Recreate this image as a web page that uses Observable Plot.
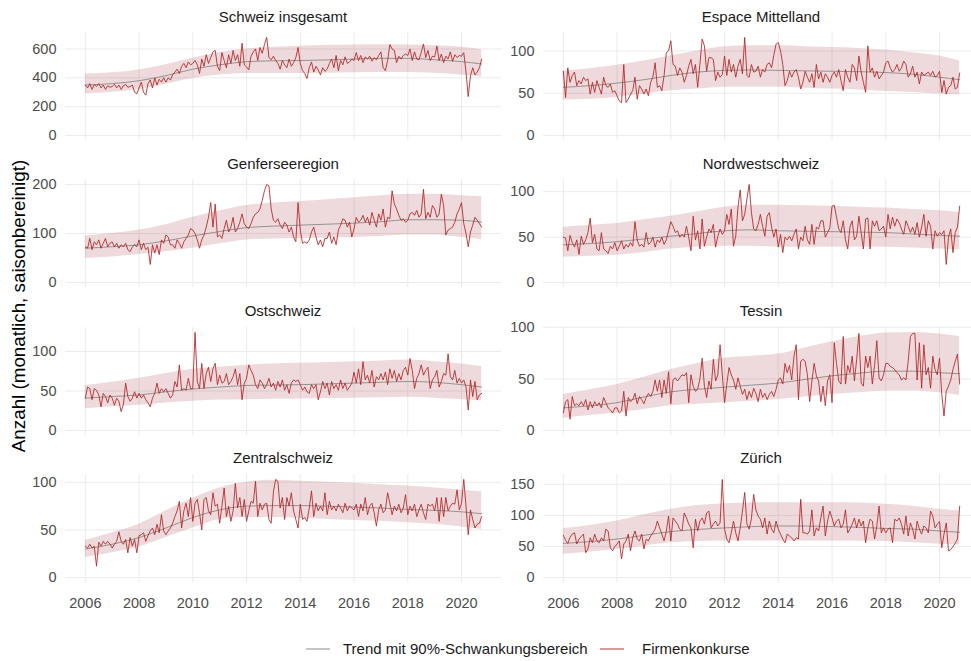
<!DOCTYPE html>
<html>
<head>
<meta charset="utf-8">
<script src="https://cdn.jsdelivr.net/npm/d3@7"></script>
<script src="https://cdn.jsdelivr.net/npm/@observablehq/plot@0.6"></script>
<style>
html, body { margin: 0; padding: 0; background: #fff; overflow: hidden; }
#chart { position: relative; width: 971px; height: 661px; font-family: "Liberation Sans", Arial, sans-serif; }
.strip { position: absolute; font-size: 15px; line-height: 15px; color: #1a1a1a; white-space: nowrap; transform: translateX(-50%); }
.ytitle { position: absolute; font-size: 18.8px; line-height: 19px; color: #000; white-space: nowrap; transform: translate(-50%, -50%) rotate(-90deg); }
.legtext { position: absolute; font-size: 15px; line-height: 15px; color: #1a1a1a; white-space: nowrap; }
.legkey { position: absolute; }
.facet { position: absolute; }
</style>
</head>
<body>
<div id="chart"></div>
<script>
// ---------- data ----------
const regions = ["Schweiz insgesamt", "Espace Mittelland", "Genferseeregion", "Nordwestschweiz",
                 "Ostschweiz", "Tessin", "Zentralschweiz", "Zürich"];
const startYear = 2006; // monthly values, Jan 2006 – Oct 2020
const xTicks = [2006, 2008, 2010, 2012, 2014, 2016, 2018, 2020];
const trendYears = [2006, 2007, 2008, 2009, 2010, 2011, 2012, 2013, 2014, 2015, 2016, 2017, 2018, 2019, 2020, 2020.75];

const schweizInsgesamt = [
  350,330,360,320,355,340,360,330,350,320,345,335,
  340,355,330,350,320,345,355,335,340,350,300,290,
  330,370,300,280,360,385,330,400,350,390,370,400,
  370,400,385,420,440,460,430,480,500,470,510,490,
  500,520,490,430,530,480,560,500,540,580,590,480,
  450,575,520,470,560,500,590,520,560,480,640,490,
  475,455,550,580,600,520,610,570,630,680,540,525,
  550,520,500,460,520,490,470,530,480,505,540,610,
  500,450,430,395,470,510,440,480,455,420,470,445,
  460,500,530,470,555,450,520,490,545,500,510,530,
  520,575,520,555,505,545,530,550,515,540,525,555,
  580,470,450,520,630,600,590,505,550,530,555,565,
  555,600,520,580,530,525,575,635,540,590,520,550,
  545,620,520,565,505,550,530,580,515,560,540,555,
  550,575,440,270,415,470,420,440,470,530];
const espaceMittelland = [
  76,45,80,63,71,75,59,65,61,69,65,67,
  49,63,51,65,57,49,69,59,57,61,51,53,
  47,41,39,84,39,43,49,53,69,43,59,55,
  49,55,47,63,69,86,57,59,53,71,98,100,
  112,84,82,71,80,75,63,71,82,90,73,84,
  57,84,114,106,76,92,92,90,65,75,69,72,
  94,71,90,75,84,69,82,90,73,116,71,69,
  84,75,76,82,69,78,75,84,86,80,95,108,
  110,100,84,59,65,76,69,75,78,69,55,63,
  76,69,63,73,57,84,67,75,63,73,69,63,
  71,75,69,78,65,53,78,69,63,84,80,65,
  94,75,63,51,106,75,80,69,76,67,71,75,
  86,88,80,75,78,84,76,80,88,84,69,73,
  82,69,75,61,75,71,73,75,71,76,69,71,
  76,51,65,49,57,59,69,55,57,74];
const genferseeregion = [
  73,70,90,67,83,77,87,70,80,90,73,80,
  83,73,80,70,77,73,80,67,63,73,77,73,
  87,67,80,67,72,37,77,60,77,57,87,80,
  97,93,77,77,70,87,80,70,83,90,97,110,
  107,100,87,70,87,97,113,133,163,113,160,93,
  97,90,110,127,103,113,133,103,110,123,140,120,
  113,110,120,133,140,143,150,167,187,200,197,150,
  127,123,130,117,110,123,117,103,113,93,83,163,
  107,80,83,80,87,103,113,93,77,87,73,90,
  90,103,80,93,77,107,117,130,127,113,123,93,
  110,133,123,127,137,123,133,117,143,127,113,140,
  127,150,113,133,130,187,160,150,137,127,130,123,
  127,140,143,137,147,133,140,190,130,143,133,157,
  150,133,140,180,157,97,107,110,113,123,140,150,
  163,120,100,73,103,117,133,127,120,113];
const nordwestschweiz = [
  50,49,35,52,44,39,47,31,51,42,47,55,
  71,44,53,37,35,55,37,35,32,40,37,44,
  35,40,46,37,42,39,44,40,67,47,40,42,
  39,55,42,44,50,39,47,44,50,42,47,57,
  67,62,55,57,50,53,50,62,50,35,73,47,
  57,37,70,40,50,59,55,64,39,51,59,53,
  57,75,64,81,40,51,83,102,68,75,92,108,
  77,59,57,64,75,62,51,73,77,61,50,59,
  39,53,33,50,47,51,46,53,59,37,50,46,
  62,47,42,64,42,61,59,68,68,50,55,60,
  84,85,72,59,55,68,47,37,61,68,47,51,
  73,55,37,70,71,37,68,62,68,57,59,62,
  50,75,59,72,62,70,66,59,53,68,62,55,
  61,53,66,50,61,75,51,68,62,37,57,51,
  55,53,57,20,50,59,33,55,61,84];
const ostschweiz = [
  41,55,53,39,53,51,45,30,47,43,35,45,
  41,32,41,37,24,33,60,43,37,41,49,41,
  47,41,45,39,35,30,41,47,60,47,53,49,
  53,47,41,45,62,55,83,51,53,51,66,53,
  53,124,62,53,85,53,72,80,62,78,85,58,
  70,60,62,72,58,62,68,78,58,72,39,60,
  66,83,76,70,58,53,64,60,53,58,66,55,
  60,51,62,55,64,51,58,47,60,64,62,64,
  58,51,55,49,47,58,53,58,39,49,62,53,
  60,45,62,53,58,51,64,53,60,51,55,60,
  74,60,78,58,87,64,70,60,76,55,68,64,
  72,64,74,58,78,66,76,62,72,64,76,80,
  70,91,76,53,66,72,83,70,76,80,53,64,
  68,76,55,62,72,70,97,68,64,76,60,66,
  60,64,55,26,64,43,62,39,45,47];
const tessin = [
  17,28,30,11,33,24,26,24,28,24,30,20,
  28,22,28,24,27,22,32,27,22,20,17,22,
  22,17,19,38,14,32,28,30,36,26,33,30,
  26,32,36,33,38,49,38,49,32,49,36,57,
  26,49,51,48,51,54,53,56,27,54,43,38,
  40,50,70,43,32,48,40,69,48,54,83,54,
  27,45,61,54,49,40,51,43,35,40,30,38,
  32,41,36,28,40,32,36,30,35,38,33,40,
  49,51,45,65,56,63,49,72,83,30,67,69,
  67,54,28,48,65,53,48,28,43,24,48,54,
  27,85,65,48,45,91,45,63,56,72,48,69,
  94,46,43,72,61,72,45,63,87,51,48,54,
  65,65,62,61,59,56,54,49,51,49,67,91,
  94,94,49,85,41,83,54,61,41,72,59,54,
  70,35,14,38,43,49,59,67,74,45];
const zentralschweiz = [
  33,31,35,31,33,12,37,33,38,35,38,35,
  31,35,38,48,38,35,40,26,42,33,40,26,
  44,45,47,38,44,49,52,45,56,47,66,49,
  45,49,52,57,64,70,80,52,70,78,64,84,
  59,78,82,68,50,82,84,70,66,89,75,77,
  57,75,94,64,75,59,70,99,73,84,64,82,
  59,70,80,78,101,64,78,71,77,78,61,57,
  90,103,101,73,84,61,84,75,89,70,61,52,
  77,61,63,59,73,91,64,78,70,75,70,89,
  66,80,71,75,70,77,73,68,78,70,75,73,
  71,77,64,77,70,84,66,75,78,68,54,71,
  77,68,71,89,78,66,75,70,77,68,73,87,
  66,75,70,77,64,71,77,68,61,77,75,77,
  70,84,59,84,64,84,70,75,78,77,92,71,
  78,103,75,45,71,61,52,56,57,64];
const zuerich = [
  68,60,55,65,70,72,54,62,66,70,40,46,
  64,56,70,59,56,64,59,78,75,48,43,50,
  54,59,30,54,59,70,43,64,75,62,59,70,
  46,62,59,67,72,78,91,80,70,59,75,99,
  59,96,91,86,78,75,104,96,86,80,48,94,
  75,91,96,86,104,107,80,86,91,83,88,158,
  78,62,56,72,91,72,59,80,107,137,86,78,
  95,134,109,99,94,80,96,70,91,78,72,91,
  78,70,62,56,70,67,64,59,64,62,126,72,
  72,70,75,109,67,80,75,96,115,67,91,107,
  96,83,91,94,80,86,109,72,78,86,96,80,
  94,83,91,56,80,94,91,62,83,115,72,80,
  72,78,80,56,94,91,96,86,70,99,67,88,
  78,62,91,78,70,83,80,72,107,99,80,86,
  90,48,70,88,43,45,50,55,62,115];

// trend (smoothed) and 90% band, at trendYears
const trendSchweiz = [350,360,380,415,460,490,512,518,520,524,530,535,535,525,512,496];
const loSchweiz    = [288,300,320,355,395,420,430,430,430,432,435,437,437,432,420,405];
const hiSchweiz    = [427,435,455,490,535,575,600,612,618,625,628,630,628,622,612,595];
const trendEspace  = [57,59,62,66,71,75,77,77.5,77,76.5,76,75.5,74.5,72.5,69,66];
const loEspace     = [42,43,45,49,53,55,57,57,57,56,55,54,52,51,49,48];
const hiEspace     = [76,79,83,88,94,100,105,106,106,105,104,103,101,98,94,88];
const trendGenf    = [70,73,77,85,95,104,112,115,117,119,121,124,128,128,127,123];
const loGenf       = [49,52,57,63,70,79,87,89,90,91,92,94,97,97,92,88];
const hiGenf       = [95,100,107,118,133,146,157,162,165,169,173,177,180,180,177,175];
const trendNW      = [41.5,43,45,48,51,54,57,58,57,56.5,56,55.5,55,53.5,52,51];
const loNW         = [28,29,30,33,37,39,40,40,39,39,39,39,39,38,37,36];
const hiNW         = [61,63,65,69,73,78,83,85,85,84.5,84,83,82,80.5,79,77];
const trendOst     = [41,43,45,49,52.5,55,57,57.5,58,59,60,61,62,61,58,55];
const loOst        = [27.5,30,32,35,37,38.5,39,39.5,40,40.5,41,41.5,42,41,39,37.5];
const hiOst        = [57,61,66,72,77.5,80,82.5,84,85,86,87,88,89,87,84,81];
const trendTessin  = [22,24,27,32.5,37.5,40,42,44,46,49.5,53,55.5,57.5,57.5,56,55];
const loTessin     = [12,14.5,17,20.5,24,25.5,27,28.5,30,32.5,35,36.5,38,38,36.5,34];
const hiTessin     = [35,39.5,44.5,51.5,59,65,70,72,74,80,86,91,94.5,95,93.5,91];
const trendZentral = [30,35,42,52,63,71,75,75.5,75.5,75,74,73,71.5,70.5,69,67];
const loZentral    = [21,26,32,42,52,61,63,63,62,61,60,59,57.5,56,53,50.5];
const hiZentral    = [39,47,56,70,83,94,100,102,101,100,99,97.5,96,94,92,90];
const trendZuerich = [55,58,62,68,74,77.5,80,82,83,83,82,81,79,78,75,73];
const loZuerich    = [37.5,41,45.5,51,56,58,59,59,59,59,59,58.5,58,56,53.5,52.5];
const hiZuerich    = [79,84,91,101,110,116,119,120,120.5,120.5,120.5,120,118,115,110,107];

const yTicksSchweiz = [0, 200, 400, 600];
const yTicksGenf = [0, 100, 200];
const yTicks50 = [0, 50, 100];
const yTicksZuerich = [0, 50, 100, 150];

const panels = [
  {name: regions[0], values: schweizInsgesamt, mid: trendSchweiz, lo: loSchweiz, hi: hiSchweiz, yTicks: yTicksSchweiz},
  {name: regions[1], values: espaceMittelland, mid: trendEspace, lo: loEspace, hi: hiEspace, yTicks: yTicks50},
  {name: regions[2], values: genferseeregion, mid: trendGenf, lo: loGenf, hi: hiGenf, yTicks: yTicksGenf},
  {name: regions[3], values: nordwestschweiz, mid: trendNW, lo: loNW, hi: hiNW, yTicks: yTicks50},
  {name: regions[4], values: ostschweiz, mid: trendOst, lo: loOst, hi: hiOst, yTicks: yTicks50},
  {name: regions[5], values: tessin, mid: trendTessin, lo: loTessin, hi: hiTessin, yTicks: yTicks50},
  {name: regions[6], values: zentralschweiz, mid: trendZentral, lo: loZentral, hi: hiZentral, yTicks: yTicks50},
  {name: regions[7], values: zuerich, mid: trendZuerich, lo: loZuerich, hi: hiZuerich, yTicks: yTicksZuerich}
];

// ---------- layout ----------
const chart = document.getElementById("chart");
const RED = "#b22222", GREY = "#7f7f7f", GRID = "#ebebeb", BAND = "#a0323c";
const PW = 436, PH = 108;
const colLeft = [65, 543];
const rowTop0 = 32, rowPitch = 147.3;

panels.forEach((p, idx) => {
  const col = idx % 2, row = Math.floor(idx / 2);
  const panelLeft = colLeft[col];
  const panelTop = rowTop0 + rowPitch * row;
  const mL = 60, mT = 2, mR = 0, mB = row === 3 ? 36 : 2;
  const series = p.values.map((v, i) => ({t: startYear + i / 12, v}));
  const band = trendYears.map((t, i) => ({t, lo: p.lo[i], mid: p.mid[i], hi: p.hi[i]}));
  const xmin = startYear, xmax = series[series.length - 1].t;
  const xpad = (xmax - xmin) * 0.05;
  const ymax = d3.max([...p.values, ...p.hi]);
  const svg = Plot.plot({
    width: mL + PW + mR, height: mT + PH + mB,
    marginLeft: mL, marginRight: mR, marginTop: mT, marginBottom: mB,
    style: {fontFamily: '"Liberation Sans", Arial, sans-serif', fontSize: "14.5px", color: "#4d4d4d", background: "transparent", overflow: "visible"},
    x: {domain: [xmin - xpad, xmax + xpad], axis: null},
    y: {domain: [-0.05 * ymax, 1.05 * ymax], axis: null},
    marks: [
      Plot.gridX(xTicks, {stroke: GRID, strokeOpacity: 1, strokeWidth: 1}),
      Plot.gridY(p.yTicks, {stroke: GRID, strokeOpacity: 1, strokeWidth: 1}),
      Plot.areaY(band, {x: "t", y1: "lo", y2: "hi", fill: BAND, fillOpacity: 0.18, curve: "monotone-x"}),
      Plot.lineY(band, {x: "t", y: "mid", stroke: GREY, strokeWidth: 0.8, curve: "monotone-x"}),
      Plot.lineY(series, {x: "t", y: "v", stroke: RED, strokeWidth: 0.85}),
      Plot.axisY(p.yTicks, {tickSize: 0, tickPadding: 9, label: null}),
      row === 3 ? Plot.axisX(xTicks, {tickSize: 0, tickPadding: 15, tickFormat: d => String(d), label: null}) : null
    ]
  });
  svg.classList.add("facet");
  svg.style.left = (panelLeft - mL) + "px";
  svg.style.top = (panelTop - mT) + "px";
  chart.appendChild(svg);

  const s = document.createElement("div");
  s.className = "strip";
  s.textContent = p.name;
  s.style.left = (panelLeft + PW / 2) + "px";
  s.style.top = (panelTop - 23.5) + "px";
  chart.appendChild(s);
});

// y-axis title
const yt = document.createElement("div");
yt.className = "ytitle";
yt.textContent = "Anzahl (monatlich, saisonbereinigt)";
yt.style.left = "18px";
yt.style.top = "306px";
chart.appendChild(yt);

// legend
const legend = [
  {label: "Trend mit 90%-Schwankungsbereich", color: GREY, keyX: 306, textX: 343},
  {label: "Firmenkonkurse", color: RED, keyX: 600, textX: 642}
];
const NS = "http://www.w3.org/2000/svg";
legend.forEach(l => {
  const k = document.createElementNS(NS, "svg");
  k.setAttribute("width", 24);
  k.setAttribute("height", 6);
  k.setAttribute("class", "legkey");
  k.style.left = l.keyX + "px";
  k.style.top = "646px";
  const ln = document.createElementNS(NS, "line");
  ln.setAttribute("x1", 0); ln.setAttribute("x2", 24);
  ln.setAttribute("y1", 3); ln.setAttribute("y2", 3);
  ln.setAttribute("stroke", l.color);
  ln.setAttribute("stroke-width", 0.9);
  k.appendChild(ln);
  chart.appendChild(k);
  const t = document.createElement("div");
  t.className = "legtext";
  t.textContent = l.label;
  t.style.left = l.textX + "px";
  t.style.top = "641px";
  chart.appendChild(t);
});
</script>
</body>
</html>
